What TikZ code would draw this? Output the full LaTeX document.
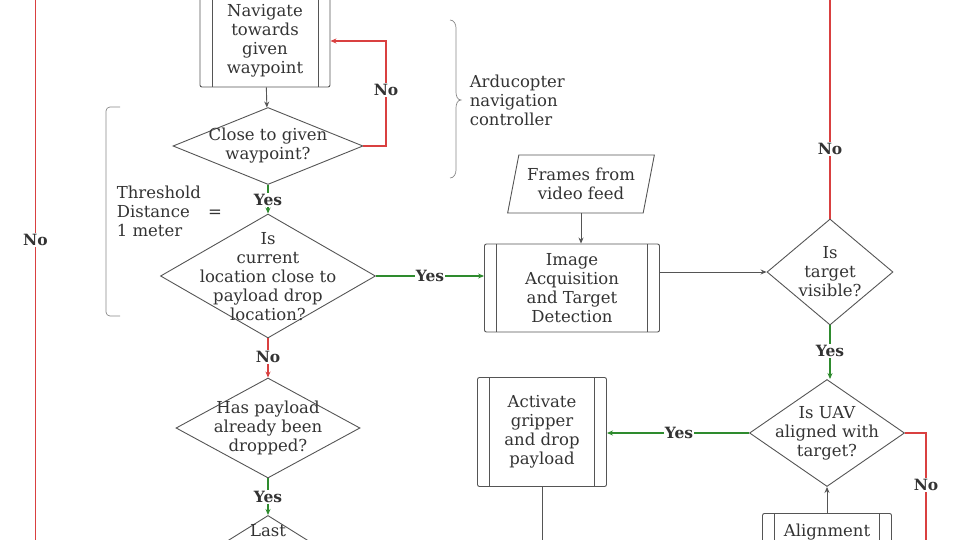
\documentclass[tikz,border=0pt]{standalone}
\usepackage{fontspec}
\setmainfont{DejaVu Serif}
\usetikzlibrary{shapes.geometric,arrows.meta}
\definecolor{noRed}{HTML}{D94040}
\definecolor{yesGreen}{HTML}{2E8B2E}
\definecolor{lineGray}{HTML}{555555}
\definecolor{textGray}{HTML}{333333}
\tikzset{
  every node/.style={text=textGray,font=\fontsize{16.5}{19}\selectfont},
  decision/.style={diamond,draw=lineGray,inner sep=0pt},
  process/.style={rectangle,draw=lineGray,rounded corners=2pt,align=center,
    path picture={
      \draw[lineGray] ([xshift=12pt]path picture bounding box.north west) -- ([xshift=12pt]path picture bounding box.south west);
      \draw[lineGray] ([xshift=-12pt]path picture bounding box.north east) -- ([xshift=-12pt]path picture bounding box.south east);}},
  tag/.style={fill=white,inner sep=1pt,font=\bfseries\fontsize{15.5}{19}\selectfont},
  flow/.style={draw=lineGray,-{Stealth[length=6pt,width=5pt]}},
  yesflow/.style={draw=yesGreen,line width=1.1pt,-{Stealth[length=6pt,width=5pt]}},
  noflow/.style={draw=noRed,line width=1.1pt,-{Stealth[length=6pt,width=5pt]}},
  noline/.style={draw=noRed,line width=1.1pt},
}
\begin{document}
\begin{tikzpicture}[x=1pt,y=-1pt,line width=0.9pt]
        \useasboundingbox (0,0) rectangle (960,540);

        % Boxes
        \node[process,minimum width=130,minimum height=92] (nav) at (265,41) {Navigate\\towards\\given\\waypoint};
        \node[process,minimum width=175,minimum height=88] (img) at (572,288) {Image\\Acquisition\\and Target\\Detection};
        \node[process,minimum width=129,minimum height=109] (grip) at (542,432) {Activate\\gripper\\and drop\\payload};
        \node[process,minimum width=129,minimum height=60,anchor=north] (align) at (827,513) {};
        \node at (827,532) (alignText) {Alignment};
        \node[trapezium,trapezium left angle=75,trapezium right angle=105,trapezium stretches=true,
              draw=lineGray,minimum width=147,minimum height=58,align=center] (frames) at (581,184) {Frames from\\video feed};

        % Decisions
        \node[decision,minimum width=190,minimum height=77,label={[align=center]center:Close to given\\waypoint?}] (close) at (268,146) {};
        \node[decision,minimum width=215,minimum height=124,label={[align=center,yshift=-1pt]center:Is\\current\\location close to\\payload drop\\location?}] (loc) at (268,276) {};
        \node[decision,minimum width=126,minimum height=106,label={[align=center]center:Is\\target\\visible?}] (vis) at (830,272) {};
        \node[decision,minimum width=155,minimum height=107,label={[align=center]center:Is UAV\\aligned with\\target?}] (aligned) at (827,433) {};
        \node[decision,minimum width=184,minimum height=100,label={[align=center]center:Has payload\\already been\\dropped?}] (dropped) at (268,428) {};
        \node[decision,minimum width=160,minimum height=100,anchor=north,label={[yshift=-26pt]north:Last}] (last) at (268,515) {};

        % Connectors
        \draw[flow] (nav) -- (close);
        \draw[noflow] (close.east) -| (386,90) node[tag] (no1) {No} |- (nav.east);
        \draw[yesflow] (close.south) -- (268,200) node[tag] (yes1) {Yes} -- (loc.north);
        \draw[yesflow] (loc.east) -- (430,276) node[tag] (yes2) {Yes} -- (img.west |- loc.east);
        \draw[flow] (frames.south |- frames.bottom side) -- (img.north -| frames.south);
        \draw[flow] (img.east |- vis.west) -- (vis.west);
        \draw[noline] (vis.north) -- (830,149) node[tag] (no2) {No} -- (830,0);
        \draw[yesflow] (vis.south) -- (830,351) node[tag] (yes3) {Yes} -- (aligned.north -| vis.south);
        \draw[yesflow] (aligned.west) -- (679,433) node[tag] (yes4) {Yes} -- (grip.east |- aligned.west);
        \draw[noline] (aligned.east) -| (926,485) node[tag] (no3) {No} -- (926,540);
        \draw[flow] (align.north) -- (aligned.south);
        \draw[lineGray] (grip.south) -- (542,540);
        \draw[noflow] (loc.south) -- (268,357) node[tag] (no4) {No} -- (dropped.north);
        \draw[yesflow] (dropped.south) -- (268,497) node[tag] (yes5) {Yes} -- (last.north);
        \draw[noline] (35.5,0) -- (35.5,240) node[tag] (no5) {No} -- (35.5,540);

        % Annotations
        \draw[lineGray!70,line width=0.7pt] (450,20) to[out=0,in=90] (456,28) -- (456,92) to[out=-90,in=180] (461,100)
              to[out=180,in=90] (456,108) -- (456,170) to[out=-90,in=0] (450,178);
        \node[anchor=west,align=left] (ctrl) at (466,100) {Arducopter\\navigation\\controller};
        \draw[lineGray!70,line width=0.7pt] (120,107) -- (110,107) to[out=180,in=90] (106,111) -- (106,312) to[out=-90,in=180] (110,316) -- (120,316);
        \node[anchor=west,align=left] (thresh) at (113,211) {Threshold\\Distance\hspace{1.1em}=\\1 meter};
\end{tikzpicture}
\end{document}
